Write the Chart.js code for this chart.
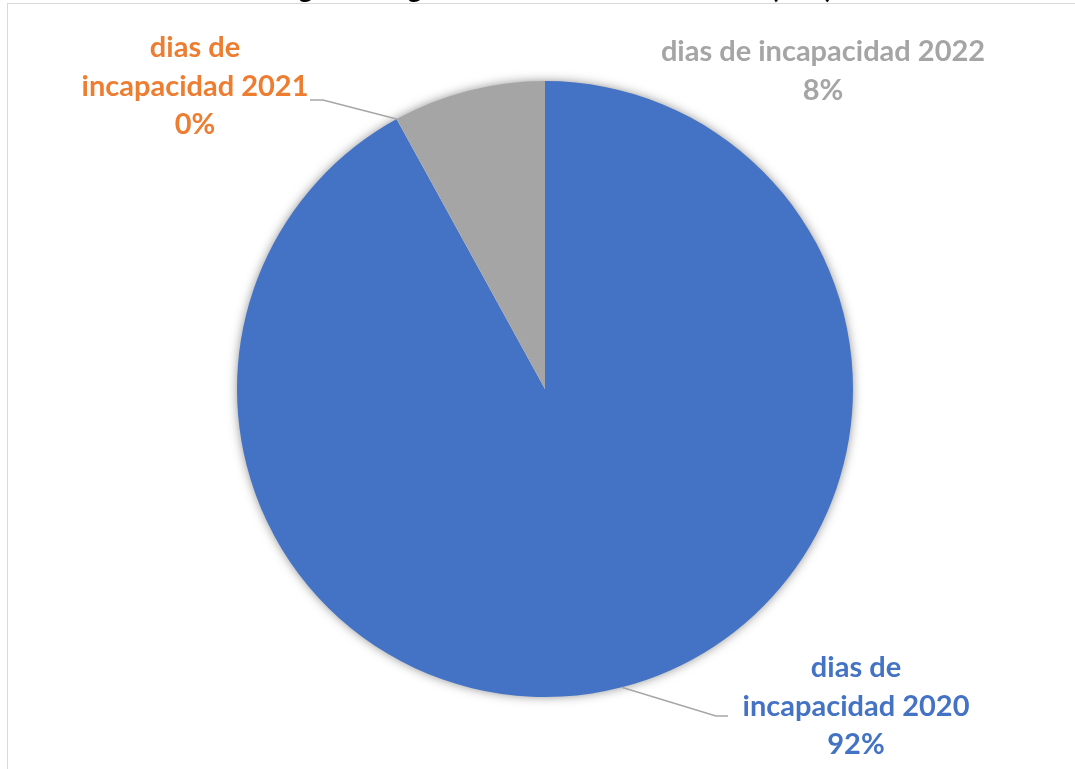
<!DOCTYPE html>
<html lang="es">
<head>
<meta charset="utf-8">
<title>Días de incapacidad</title>
<script src="https://cdn.jsdelivr.net/npm/chart.js@4.4.1/dist/chart.umd.min.js"></script>
<style>
  html, body { margin: 0; padding: 0; background: #fff; overflow: hidden; }
  body { width: 1075px; height: 769px; position: relative; }
  /* canvas starts above the page so only the bottom of the title shows */
  #wrap { position: absolute; left: 0; top: -40px; width: 1075px; height: 809px; }
  #frame { position: absolute; left: 7px; top: 3px; width: 1200px; height: 900px;
           border: 1px solid #d9d9d9; pointer-events: none; }
</style>
</head>
<body>
<div id="wrap"><canvas id="pie"></canvas></div>
<div id="frame"></div>
<script>
// ---------- Data ----------
const TITLE = "Diagnóstico general de ausentismo laboral (días)";
const categories = ["dias de incapacidad 2020", "dias de incapacidad 2021", "dias de incapacidad 2022"];
const percentages = [92, 0, 8];
const sliceColors = ["#4472C4", "#ED7D31", "#A5A5A5"];
const wrapAfterDe = [true, true, false]; // break label after "dias de"

// ---------- Layout ----------
const SHIFT = 40; // canvas offset above the page
const FONT = "Lato, 'Open Sans', sans-serif";
const LINE_H = 38.5;
const LEADER = "#A6A6A6";

// label anchor (centre x, first baseline y in page coords) + leader elbow
const labelSpots = [
  { x: 856, y: 677, elbow: [716, 716], end: [728, 716] },
  { x: 195, y: 57,  elbow: [323, 100], end: [310, 100] },
  { x: 823, y: 61 },
];

function labelText(i) {
  const cat = categories[i];
  const lines = wrapAfterDe[i]
    ? [cat.slice(0, 7), cat.slice(8)]
    : [cat];
  lines.push(percentages[i] + "%");
  return lines;
}

// soft outer shadow behind the whole pie
const pieShadow = {
  id: "pieShadow",
  beforeDatasetsDraw(chart) {
    const arc = chart.getDatasetMeta(0).data[0];
    if (!arc) return;
    const ctx = chart.ctx;
    ctx.save();
    ctx.shadowColor = "rgba(0,0,0,0.5)";
    ctx.shadowBlur = 11;
    ctx.fillStyle = "#fff";
    ctx.beginPath();
    ctx.arc(arc.x, arc.y, arc.outerRadius - 1, 0, Math.PI * 2);
    ctx.fill();
    ctx.restore();
  },
};

// data labels with leader lines
const sliceLabels = {
  id: "sliceLabels",
  afterDatasetsDraw(chart) {
    const ctx = chart.ctx;
    const meta = chart.getDatasetMeta(0);
    ctx.save();
    meta.data.forEach((arc, i) => {
      const spot = labelSpots[i];
      if (spot.elbow) {
        const mid = (arc.startAngle + arc.endAngle) / 2;
        const sx = arc.x + Math.cos(mid) * arc.outerRadius;
        const sy = arc.y + Math.sin(mid) * arc.outerRadius;
        ctx.strokeStyle = LEADER;
        ctx.lineWidth = 1.5;
        ctx.beginPath();
        ctx.moveTo(sx, sy);
        ctx.lineTo(spot.elbow[0], spot.elbow[1] + SHIFT);
        ctx.lineTo(spot.end[0], spot.end[1] + SHIFT);
        ctx.stroke();
      }
      ctx.fillStyle = sliceColors[i];
      ctx.font = "bold 29px " + FONT;
      ctx.textAlign = "center";
      ctx.textBaseline = "alphabetic";
      labelText(i).forEach((line, k) => {
        ctx.fillText(line, spot.x, spot.y + SHIFT + k * LINE_H);
      });
    });
    ctx.restore();
  },
};

new Chart(document.getElementById("pie"), {
  type: "pie",
  data: {
    labels: categories,
    datasets: [{
      data: percentages,
      backgroundColor: sliceColors,
      borderWidth: 0,
    }],
  },
  options: {
    responsive: true,
    maintainAspectRatio: false,
    animation: false,
    layout: { padding: { left: 237, right: 222, top: 0, bottom: 72 } },
    plugins: {
      legend: { display: false },
      tooltip: { enabled: false },
      title: {
        display: true,
        text: TITLE,
        color: "#000",
        font: { family: FONT, size: 27, weight: "bold" },
        padding: { top: 13.5, bottom: 75.1 },
      },
    },
  },
  plugins: [pieShadow, sliceLabels],
});
</script>
</body>
</html>
